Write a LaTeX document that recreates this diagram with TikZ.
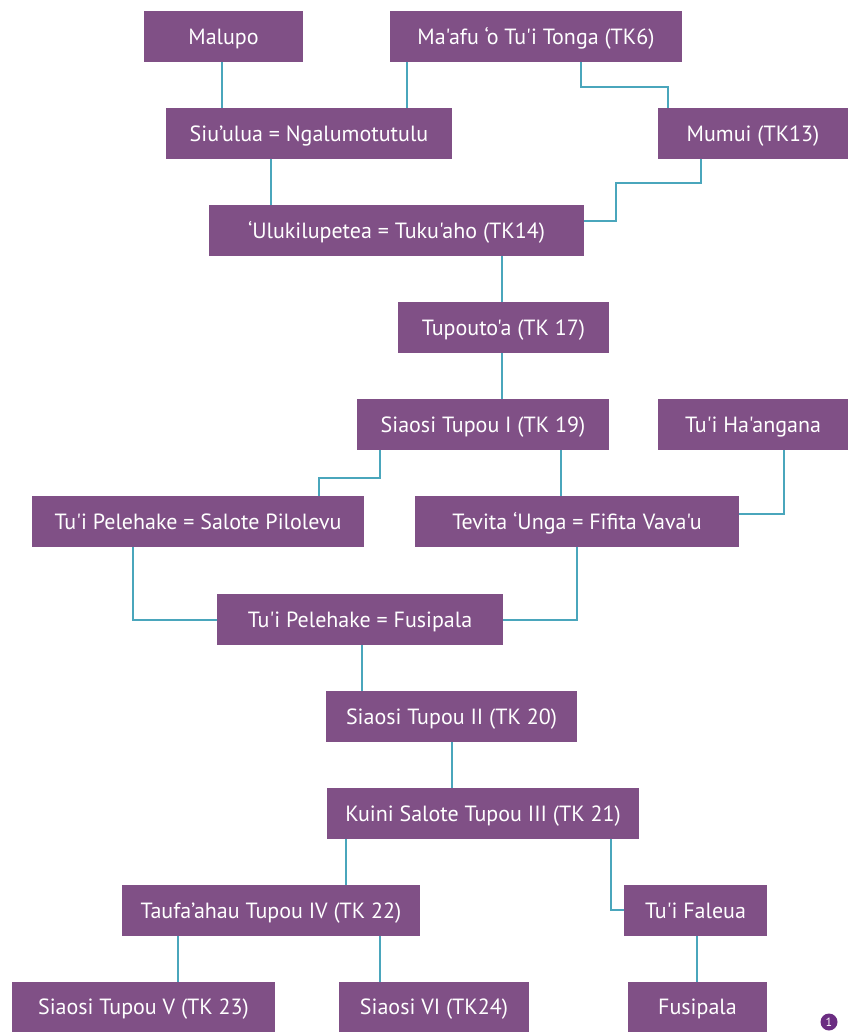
\documentclass[tikz,border=0pt]{standalone}
\usepackage{fontspec}
\newfontfamily\lbl{PT Sans}
\definecolor{boxpurple}{HTML}{805086}
\definecolor{linkteal}{HTML}{4AA6BC}
\definecolor{dotpurple}{HTML}{6B2D82}
\begin{document}
\begin{tikzpicture}[x=0.75pt,y=-0.75pt,
  box/.style={fill=boxpurple,text=white,inner sep=0pt,font=\lbl\fontsize{16.5}{18}\selectfont,text height=11.6pt,text depth=0pt},
  link/.style={draw=linkteal,line width=1.8pt}]
\useasboundingbox (0,0) rectangle (856,1032);
\newcommand\bx[6]{\node[box,minimum width=#4*0.75pt,minimum height=#5*0.75pt] (#1) at (#2,#3) {#6};}
\bx{malupo}{223.5}{36.5}{159}{51}{Malupo}
\bx{maafu}{536}{36.5}{292}{51}{Ma'afu ‘o Tu'i Tonga (TK6)}
\bx{siuulua}{309}{133.5}{286}{51}{Siu’ulua = Ngalumotutulu}
\bx{mumui}{753}{133.5}{190}{51}{Mumui (TK13)}
\bx{ulu}{396.5}{230.5}{375}{51}{‘Ulukilupetea = Tuku'aho (TK14)}
\bx{tupoutoa}{503.5}{327.5}{211}{51}{Tupouto'a (TK 17)}
\bx{tupouI}{483}{424.5}{252}{51}{Siaosi Tupou I (TK 19)}
\bx{haangana}{753}{424.5}{190}{51}{Tu'i Ha'angana}
\bx{salote}{198}{521.5}{332}{51}{Tu'i Pelehake = Salote Pilolevu}
\bx{tevita}{577}{521.5}{324}{51}{Tevita ‘Unga = Fifita Vava'u}
\bx{pelefusi}{360}{619.5}{286}{51}{Tu'i Pelehake = Fusipala}
\bx{tupouII}{451.5}{716.5}{251}{51}{Siaosi Tupou II (TK 20)}
\bx{kuini}{483}{813.5}{312}{51}{Kuini Salote Tupou III (TK 21)}
\bx{taufa}{271}{910.5}{298}{51}{Taufa’ahau Tupou IV (TK 22)}
\bx{faleua}{695.5}{910.5}{143}{51}{Tu'i Faleua}
\bx{tupouV}{143.5}{1007}{263}{50}{Siaosi Tupou V (TK 23)}
\bx{vi}{434}{1007}{190}{50}{Siaosi VI (TK24)}
\bx{fusipala}{697.5}{1007}{139}{50}{Fusipala}
% connectors
\draw[link] (malupo.south -| 222,0) -- (siuulua.north -| 222,0);
\draw[link] (maafu.south -| 407,0) -- (siuulua.north -| 407,0);
\draw[link] (maafu.south -| 581,0) -- (581,87) -| (mumui.north -| 668,0);
\draw[link] (mumui.south -| 701,0) -- (701,183) -| (616,221) -- (ulu.east |- 616,221);
\draw[link] (siuulua.south -| 271,0) -- (ulu.north -| 271,0);
\draw[link] (ulu.south -| 502,0) -- (tupoutoa.north -| 502,0);
\draw[link] (tupoutoa.south -| 502,0) -- (tupouI.north -| 502,0);
\draw[link] (tupouI.south -| 380,0) -- (380,478) -| (salote.north -| 319,0);
\draw[link] (tupouI.south -| 561,0) -- (tevita.north -| 561,0);
\draw[link] (haangana.south -| 784,0) |- (tevita.east |- 0,514);
\draw[link] (salote.south -| 133,0) |- (pelefusi.west |- 0,620);
\draw[link] (tevita.south -| 577,0) |- (pelefusi.east |- 0,620);
\draw[link] (pelefusi.south -| 362,0) -- (tupouII.north -| 362,0);
\draw[link] (tupouII.south -| 452,0) -- (kuini.north -| 452,0);
\draw[link] (kuini.south -| 346,0) -- (taufa.north -| 346,0);
\draw[link] (kuini.south -| 611,0) |- (faleua.west |- 0,910);
\draw[link] (taufa.south -| 178,0) -- (tupouV.north -| 178,0);
\draw[link] (taufa.south -| 380,0) -- (vi.north -| 380,0);
\draw[link] (faleua.south -| 697,0) -- (fusipala.north -| 697,0);
\node[circle,fill=dotpurple,text=white,inner sep=0pt,minimum size=17*0.75pt,font=\lbl\fontsize{9}{10}\selectfont] (note) at (829,1022) {1};
\end{tikzpicture}
\end{document}
